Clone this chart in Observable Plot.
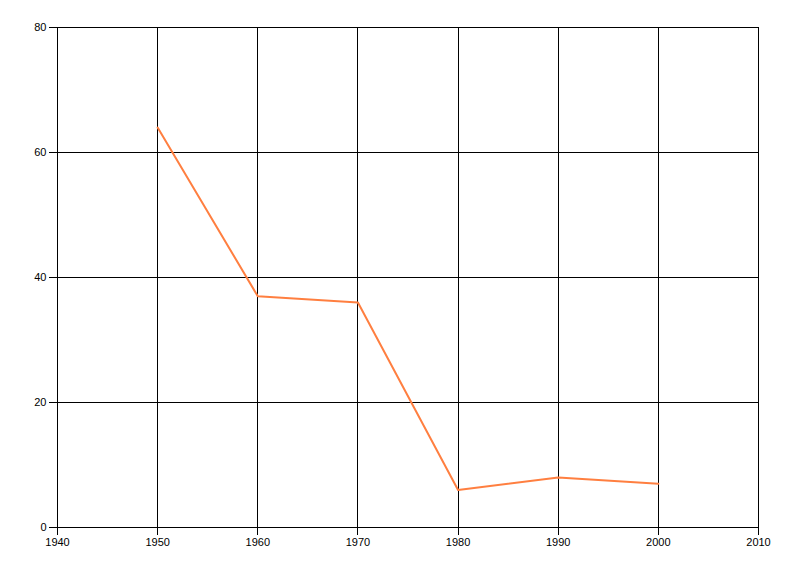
<!DOCTYPE html>
<html>
<head>
<meta charset="utf-8">
<script src="https://cdn.jsdelivr.net/npm/d3@7"></script>
<script src="https://cdn.jsdelivr.net/npm/@observablehq/plot@0.6"></script>
<style>
  html, body { margin: 0; padding: 0; background: #fff; }
  svg { display: block; }
</style>
</head>
<body>
<div id="chart"></div>
<script>
const years = [1950, 1960, 1970, 1980, 1990, 2000];
const values = [64, 37, 36, 6, 8, 7];
const xTicks = [1940, 1950, 1960, 1970, 1980, 1990, 2000, 2010];
const yTicks = [0, 20, 40, 60, 80];

const data = years.map((y, i) => ({year: y, value: values[i]}));

const chart = Plot.plot({
  width: 800,
  height: 576,
  marginLeft: 57,
  marginRight: 42,
  marginTop: 27,
  marginBottom: 49,
  style: {fontFamily: "'Liberation Sans', Arial, sans-serif", fontSize: "11px", color: "#000", background: "#fff"},
  x: {domain: [1940, 2010], ticks: xTicks, tickFormat: d => String(d), label: null, tickSize: 8, tickPadding: 3},
  y: {domain: [0, 80], ticks: yTicks, label: null, tickSize: 8, tickPadding: 3},
  marks: [
    Plot.ruleX(xTicks, {stroke: "#000", strokeWidth: 1, shapeRendering: "crispEdges"}),
    Plot.ruleY(yTicks, {stroke: "#000", strokeWidth: 1, shapeRendering: "crispEdges"}),
    Plot.line(data, {x: "year", y: "value", stroke: "#ff7f40", strokeWidth: 2}),
    Plot.axisX({ticks: xTicks, tickFormat: d => String(d), tickSize: 8, tickPadding: 3, fill: "#000", stroke: "#000", shapeRendering: "crispEdges"}),
    Plot.axisY({ticks: yTicks, tickSize: 8, tickPadding: 3, fill: "#000", stroke: "#000", shapeRendering: "crispEdges"})
  ]
});
document.getElementById("chart").appendChild(chart);
</script>
</body>
</html>
